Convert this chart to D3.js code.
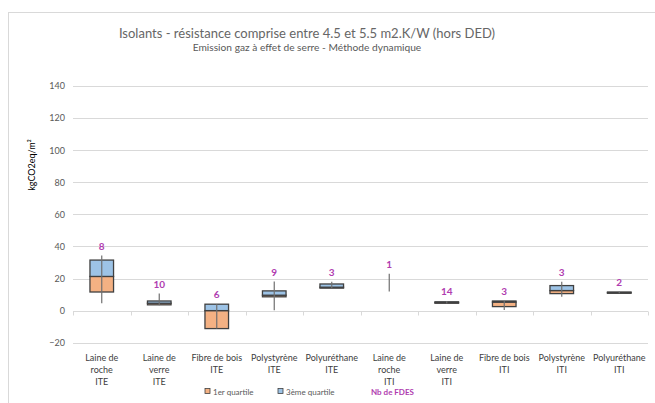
<!DOCTYPE html>
<html>
<head>
<meta charset="utf-8">
<script src="https://cdn.jsdelivr.net/npm/d3@7"></script>
<style>
  body { margin: 0; background: #fff; }
  svg { display: block; font-family: Lato, "Open Sans", sans-serif; }
</style>
</head>
<body>
<svg id="chart" width="655" height="403"></svg>
<script>
// Chart data
const categories = [
    ["Laine de", "roche", "ITE"],
    ["Laine de", "verre", "ITE"],
    ["Fibre de bois", "ITE"],
    ["Polystyrène", "ITE"],
    ["Polyuréthane", "ITE"],
    ["Laine de", "roche", "ITI"],
    ["Laine de", "verre", "ITI"],
    ["Fibre de bois", "ITI"],
    ["Polystyrène", "ITI"],
    ["Polyuréthane", "ITI"]
];
const minValues = [4.6, 3.3, -11.2, 0.2, 14.0, 11.9, 4.4, 0.4, 8.7, 10.8];
const q1Values = [11.6, 3.6, -11.2, 8.6, 14.0, null, 4.6, 2.5, 10.6, 10.8];
const medianValues = [21.3, 4.6, 0, 9.6, 14.6, null, 5.0, 5.3, 12.5, 11.2];
const q3Values = [31.5, 6.0, 4.0, 12.3, 16.6, null, 5.5, 6.0, 15.6, 11.6];
const maxValues = [34.3, 10.6, 4.0, 18.1, 18.0, 22.9, 6.0, 6.0, 18.0, 11.7];
const nbFdes = [8, 10, 6, 9, 3, 1, 14, 3, 3, 2];
const yTicks = [-20, 0, 20, 40, 60, 80, 100, 120, 140];

// Layout & styles
const plot = { left: 73, right: 648, top: 86, bottom: 342.7 };
const colors = {
    q1: "#F4B183",
    q3: "#9DC3E6",
    boxStroke: "#404040",
    whisker: "#6F6F6F",
    grid: "#D9D9D9",
    text: "#595959",
    label: "#B03CB0"
};

const svg = d3.select("#chart");

// Outer chart border
svg.append("rect")
    .attr("x", 8.5)
    .attr("y", 12.5)
    .attr("width", 700)
    .attr("height", 420)
    .attr("fill", "none")
    .attr("stroke", colors.grid)
    .attr("stroke-width", 1);

// Titles
svg.append("text")
    .attr("x", 307)
    .attr("y", 38)
    .attr("text-anchor", "middle")
    .attr("font-size", 13)
    .attr("fill", "#666")
    .text("Isolants - résistance comprise entre 4.5 et 5.5 m2.K/W (hors DED)");

svg.append("text")
    .attr("x", 307)
    .attr("y", 51)
    .attr("text-anchor", "middle")
    .attr("font-size", 10.2)
    .attr("fill", colors.text)
    .text("Emission gaz à effet de serre - Méthode dynamique");

const x = d3.scaleBand()
    .domain(d3.range(categories.length))
    .range([plot.left, plot.right]);

const y = d3.scaleLinear()
    .domain([-20, 140])
    .range([plot.bottom, plot.top]);

// Gridlines
svg.append("g")
    .selectAll("line")
    .data(yTicks)
    .join("line")
    .attr("x1", plot.left)
    .attr("x2", plot.right)
    .attr("y1", d => Math.round(y(d)) + 0.5)
    .attr("y2", d => Math.round(y(d)) + 0.5)
    .attr("stroke", colors.grid)
    .attr("stroke-width", 1);

// Y axis labels
const yAxis = svg.append("g")
    .attr("transform", `translate(${plot.left}, 0)`)
    .call(d3.axisLeft(y).tickValues(yTicks).tickSize(0).tickPadding(8));
yAxis.select(".domain").remove();
yAxis.selectAll("text")
    .attr("font-family", "Lato, sans-serif")
    .attr("font-size", 9)
    .attr("fill", colors.text);

// Y axis title
svg.append("text")
    .attr("transform", "translate(35, 165) rotate(-90)")
    .attr("text-anchor", "middle")
    .attr("font-size", 9)
    .attr("fill", "#000")
    .text("kgCO2eq/m²");

// Category tick marks on the zero line
const zeroY = Math.round(y(0)) + 0.5;
svg.append("g")
    .selectAll("line")
    .data(d3.range(categories.length + 1))
    .join("line")
    .attr("x1", i => Math.round(plot.left + i * x.step()) + 0.5)
    .attr("x2", i => Math.round(plot.left + i * x.step()) + 0.5)
    .attr("y1", zeroY)
    .attr("y2", zeroY + 4)
    .attr("stroke", colors.grid);

// Category labels
const catLabels = svg.append("g");
categories.forEach((lines, i) => {
    const text = catLabels.append("text")
        .attr("x", x(i) + x.bandwidth() / 2)
        .attr("y", 361)
        .attr("text-anchor", "middle")
        .attr("font-size", 9)
        .attr("fill", "#404040");
    lines.forEach((line, j) => {
        text.append("tspan")
            .attr("x", x(i) + x.bandwidth() / 2)
            .attr("dy", j === 0 ? 0 : 12.2)
            .text(line);
    });
});

// Boxes
const boxWidth = x.bandwidth() * 0.41;
const boxes = svg.append("g");
categories.forEach((c, i) => {
    if (q1Values[i] === null) return;
    const cx = x(i) + x.bandwidth() / 2;

    boxes.append("rect")
        .attr("x", cx - boxWidth / 2)
        .attr("y", y(medianValues[i]))
        .attr("width", boxWidth)
        .attr("height", y(q1Values[i]) - y(medianValues[i]))
        .attr("fill", colors.q1)
        .attr("stroke", colors.boxStroke)
        .attr("stroke-width", 1.3);

    boxes.append("rect")
        .attr("x", cx - boxWidth / 2)
        .attr("y", y(q3Values[i]))
        .attr("width", boxWidth)
        .attr("height", y(medianValues[i]) - y(q3Values[i]))
        .attr("fill", colors.q3)
        .attr("stroke", colors.boxStroke)
        .attr("stroke-width", 1.3);
});

// Whiskers (min to max)
svg.append("g")
    .selectAll("line")
    .data(d3.range(categories.length))
    .join("line")
    .attr("x1", i => x(i) + x.bandwidth() / 2)
    .attr("x2", i => x(i) + x.bandwidth() / 2)
    .attr("y1", i => y(minValues[i]))
    .attr("y2", i => y(maxValues[i]))
    .attr("stroke", colors.whisker)
    .attr("stroke-width", 1.2);

// Nb de FDES labels above each whisker
svg.append("g")
    .selectAll("text")
    .data(d3.range(categories.length))
    .join("text")
    .attr("x", i => x(i) + x.bandwidth() / 2)
    .attr("y", i => y(maxValues[i]) - 6)
    .attr("text-anchor", "middle")
    .attr("font-size", 10)
    .attr("font-weight", "bold")
    .attr("fill", colors.label)
    .text(i => nbFdes[i]);

// Legend
const legend = svg.append("g").attr("font-size", 8);
const legendItems = [
    { x: 205, label: "1er quartile", color: colors.q1 },
    { x: 278, label: "3ème quartile", color: colors.q3 }
];
legendItems.forEach(item => {
    legend.append("rect")
        .attr("x", item.x)
        .attr("y", 388.5)
        .attr("width", 5)
        .attr("height", 5)
        .attr("fill", item.color)
        .attr("stroke", colors.boxStroke)
        .attr("stroke-width", 0.8);
    legend.append("text")
        .attr("x", item.x + 8)
        .attr("y", 394.5)
        .attr("fill", colors.text)
        .text(item.label);
});
legend.append("text")
    .attr("x", 371)
    .attr("y", 394.5)
    .attr("font-weight", "bold")
    .attr("fill", colors.label)
    .text("Nb de FDES");
</script>
</body>
</html>
